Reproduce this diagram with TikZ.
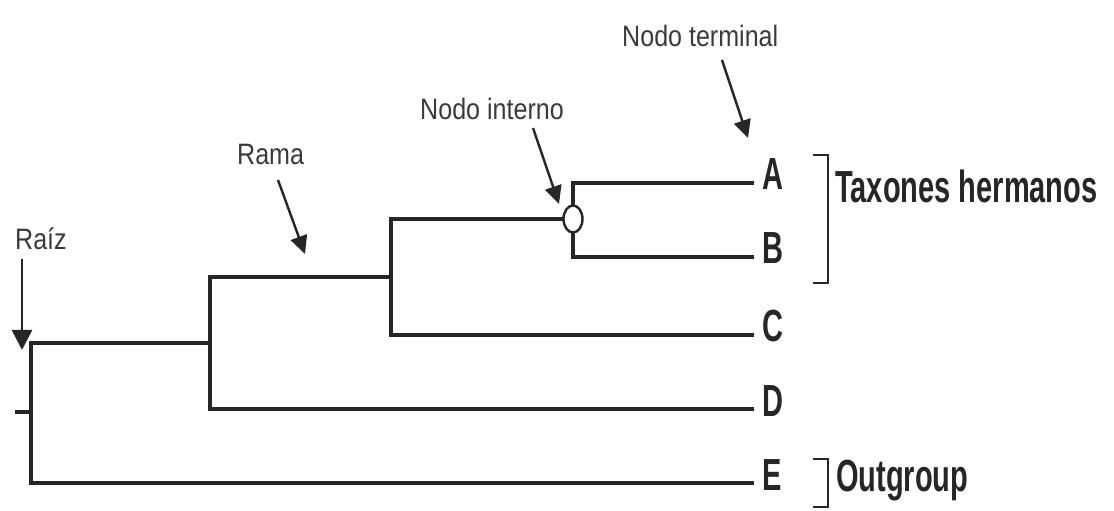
\documentclass[tikz,border=0pt]{standalone}
\usepackage{fontspec}
\usetikzlibrary{arrows.meta,shapes.geometric}
\newfontfamily\lblfont[FakeStretch=0.85]{Liberation Sans}
\newfontfamily\taxfont[FakeStretch=0.645]{Liberation Sans}
\definecolor{ink}{HTML}{262626}
\definecolor{lbl}{HTML}{3A3A3A}
\tikzset{
  branch/.style={draw=ink, line width=3.4bp, line join=miter},
  callout/.style={draw=ink, line width=2.4bp, -{Triangle[length=18bp,width=17bp]}},
  label/.style={anchor=base west, inner sep=0, text=lbl, font=\lblfont\fontsize{29.5bp}{33bp}\selectfont},
  taxon/.style={anchor=base west, inner sep=0, text=ink, font=\taxfont\bfseries\fontsize{45bp}{50bp}\selectfont},
  bracket/.style={draw=ink, line width=2.6bp},
  intnode/.style={ellipse, draw=ink, fill=white, line width=2.4bp, minimum width=19bp, minimum height=27bp, inner sep=0}
}
\begin{document}
\begin{tikzpicture}[x=1bp,y=-1bp]
\useasboundingbox (0,0) rectangle (1114,511);

% branching points
\coordinate (r)  at (31,412);
\coordinate (stub) at (15,412);
\coordinate (n1) at (210,343);
\coordinate (n2) at (391,277);
\coordinate (n3) at (573,219);

% branch tips
\coordinate (tA) at (754,183);
\coordinate (tB) at (754,257);
\coordinate (tC) at (754,335);
\coordinate (tD) at (754,409);
\coordinate (tE) at (754,483);

% tree
\draw[branch] (stub) -- (r);
\draw[branch] (r) |- (n1);
\draw[branch] (r) |- (tE);
\draw[branch] (n1) |- (n2);
\draw[branch] (n1) |- (tD);
\draw[branch] (n2) |- (n3);
\draw[branch] (n2) |- (tC);
\draw[branch] (n3) |- (tA);
\draw[branch] (n3) |- (tB);
\node[intnode] (int) at (n3) {};

% taxa
\node[taxon] (A) at (762,190) {A};
\node[taxon] (B) at (762,264) {B};
\node[taxon] (C) at (762,342) {C};
\node[taxon] (D) at (762,416) {D};
\node[taxon] (E) at (762,490) {E};

% groups
\coordinate (g1a) at (813,155);
\coordinate (g1b) at (828,155);
\coordinate (g1c) at (828,283);
\coordinate (g1d) at (813,283);
\draw[bracket] (g1a) -- (g1b) -- (g1c) -- (g1d);
\node[taxon] (sis) at (835,203) {Taxones hermanos};

\coordinate (g2a) at (813,459);
\coordinate (g2b) at (828,459);
\coordinate (g2c) at (828,507);
\coordinate (g2d) at (813,507);
\draw[bracket] (g2a) -- (g2b) -- (g2c) -- (g2d);
\node[taxon] (out) at (836,491) {Outgroup};

% annotations
\node[label] (raiz) at (15,250) {Raíz};
\node[label] (rama) at (237,165) {Rama};
\node[label] (ni) at (420,120) {Nodo interno};
\node[label] (nt) at (622,47) {Nodo terminal};

\coordinate (raizT) at (22,259);
\coordinate (raizH) at (22,350);
\coordinate (ramaT) at (278,180);
\coordinate (ramaH) at (305,254);
\coordinate (niT) at (533,128);
\coordinate (niH) at (559,204);
\coordinate (ntT) at (722,60);
\coordinate (ntH) at (748,138);

\draw[callout, -{Triangle[length=20bp,width=20bp]}] (raizT) -- (raizH);
\draw[callout] (ramaT) -- (ramaH);
\draw[callout] (niT) -- (niH);
\draw[callout] (ntT) -- (ntH);
\end{tikzpicture}
\end{document}
